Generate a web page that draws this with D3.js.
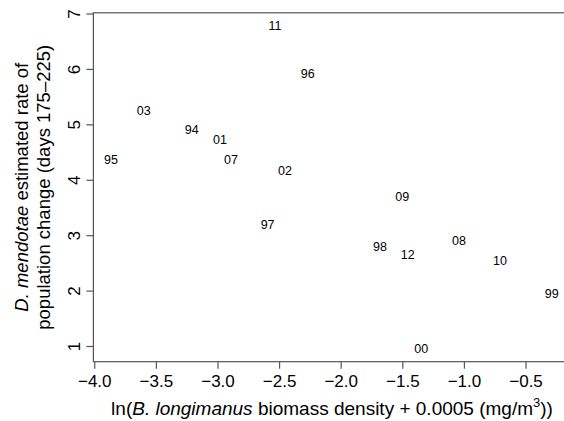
<!DOCTYPE html>
<html>
<head>
<meta charset="utf-8">
<script src="https://cdn.jsdelivr.net/npm/d3@7"></script>
<style>
  body { margin: 0; background: #fff; }
  text { font-family: "Liberation Sans", Arial, sans-serif; }
</style>
</head>
<body>
<div id="chart"></div>
<script>
const width = 564,
      height = 421;

// year labels and values
const years = ["11", "96", "03", "94", "01", "95", "07", "02", "09", "97", "98", "12", "08", "10", "99", "00"];
const biomass = [-2.533, -2.268, -3.599, -3.209, -2.980, -3.864, -2.890, -2.452, -1.500, -2.593, -1.681, -1.456, -1.040, -0.707, -0.287, -1.346];
const rate = [6.78, 5.91, 5.25, 4.91, 4.72, 4.36, 4.36, 4.16, 3.70, 3.20, 2.79, 2.66, 2.90, 2.54, 1.95, 0.95];

const xTicks = [-4.0, -3.5, -3.0, -2.5, -2.0, -1.5, -1.0, -0.5];
const yTicks = [1, 2, 3, 4, 5, 6, 7];

const svg = d3.select("#chart").append("svg")
    .attr("width", width)
    .attr("height", height);

const x = d3.scaleLinear()
    .domain([-4.007, -0.144])
    .range([93.4, 569.4]);

const y = d3.scaleLinear()
    .domain([0.717, 7.013])
    .range([361.7, 12.8]);

// plot box (right side runs off the picture)
svg.append("rect")
    .attr("x", x.range()[0])
    .attr("y", y.range()[1])
    .attr("width", x.range()[1] - x.range()[0])
    .attr("height", y.range()[0] - y.range()[1])
    .attr("fill", "none")
    .attr("stroke", "#555")
    .attr("stroke-width", 1.2);

const fmt = d => d3.format(".1f")(d).replace("-", "\u2212");

const xAxis = svg.append("g")
    .attr("transform", `translate(0,${y.range()[0]})`)
    .call(d3.axisBottom(x).tickValues(xTicks).tickSize(7).tickPadding(6).tickFormat(fmt));
xAxis.select(".domain").remove();
xAxis.selectAll("line").attr("stroke", "#555").attr("stroke-width", 1.2);
xAxis.selectAll("text").attr("font-size", 17).attr("fill", "#000")
    .attr("font-family", "Liberation Sans, Arial, sans-serif");

const yAxis = svg.append("g")
    .attr("transform", `translate(${x.range()[0]},0)`)
    .call(d3.axisLeft(y).tickValues(yTicks).tickSize(7).tickFormat(d3.format("d")));
yAxis.select(".domain").remove();
yAxis.selectAll("line").attr("stroke", "#555").attr("stroke-width", 1.2);
yAxis.selectAll("text")
    .attr("font-size", 17).attr("fill", "#000")
    .attr("font-family", "Liberation Sans, Arial, sans-serif")
    .attr("x", null).attr("dy", null)
    .attr("text-anchor", "middle")
    .attr("transform", "translate(-13,0) rotate(-90)")
    .attr("y", 0);

// year labels as the plotted symbols
svg.append("g")
    .selectAll("text")
    .data(years)
    .join("text")
    .attr("x", (d, i) => x(biomass[i]))
    .attr("y", (d, i) => y(rate[i]))
    .attr("dy", "0.36em")
    .attr("text-anchor", "middle")
    .attr("font-size", 12.5)
    .text(d => d);

// axis titles
const xLabel = svg.append("text")
    .attr("x", 332)
    .attr("y", 415)
    .attr("text-anchor", "middle")
    .attr("font-size", 19);
xLabel.append("tspan").text("ln(");
xLabel.append("tspan").attr("font-style", "italic").text("B. longimanus");
xLabel.append("tspan").text(" biomass density + 0.0005 (mg/m");
xLabel.append("tspan").attr("font-size", 13).attr("dy", -8).text("3");
xLabel.append("tspan").attr("dy", 8).text("))");

const yLabel = svg.append("text")
    .attr("transform", `translate(0,${(y.range()[0] + y.range()[1]) / 2}) rotate(-90)`)
    .attr("text-anchor", "middle")
    .attr("font-size", 18.5);
const line1 = yLabel.append("tspan").attr("x", 0).attr("y", 28);
line1.append("tspan").attr("font-style", "italic").text("D. mendotae");
line1.append("tspan").text(" estimated rate of");
yLabel.append("tspan").attr("x", 0).attr("y", 50).text("population change (days 175\u2013225)");
</script>
</body>
</html>
